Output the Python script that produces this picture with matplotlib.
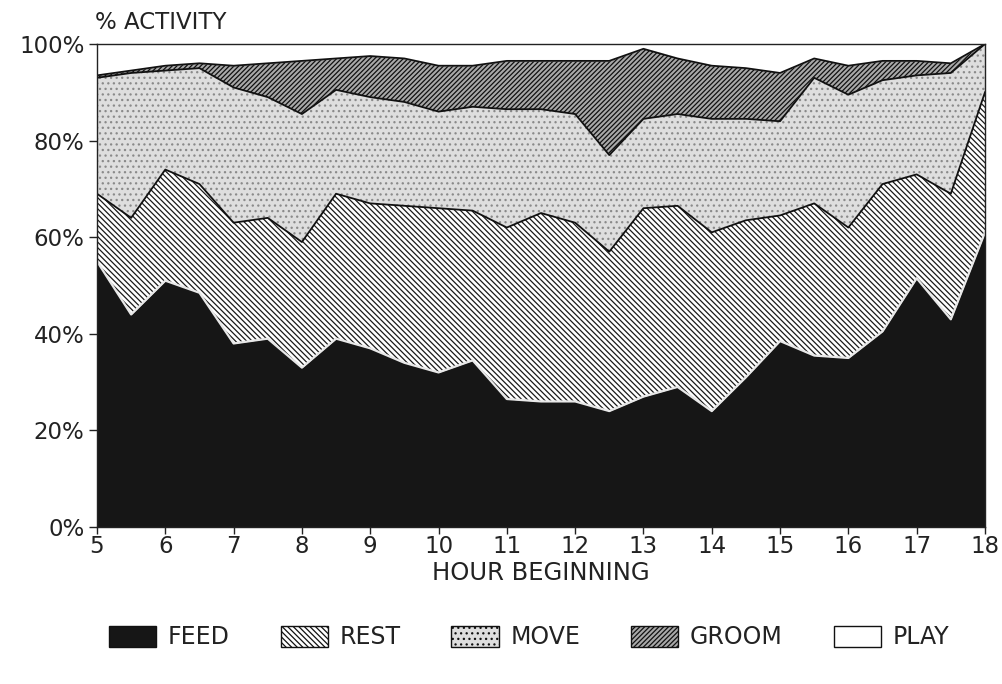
import numpy as np
import matplotlib
matplotlib.use("Agg")
import matplotlib.pyplot as plt
from matplotlib.patches import Patch

# half-hour steps from 5:00 to 18:00
hours = np.arange(5, 18.01, 0.5)

# percent of activity per half hour
feed = [55, 44, 51, 48.5, 38, 39, 33, 39, 37, 34, 32, 34.5, 26.5, 26,
        26, 24, 27, 29, 24, 31, 38.5, 35.5, 35, 40.5, 51.5, 43, 61]
rest = [14, 20, 23, 22.5, 25, 25, 26, 30, 30, 32.5, 34, 31, 35.5, 39,
        37, 33, 39, 37.5, 37, 32.5, 26, 31.5, 27, 30.5, 21.5, 26, 29]
move = [24, 30, 20.5, 24, 28, 25, 26.5, 21.5, 22, 21.5, 20, 21.5, 24.5, 21.5,
        22.5, 20, 18.5, 19, 23.5, 21, 19.5, 26, 27.5, 21.5, 20.5, 25, 10]
groom = [0.5, 0.5, 1, 1, 4.5, 7, 11, 6.5, 8.5, 9, 9.5, 8.5, 10, 10,
         11, 19.5, 14.5, 11.5, 11, 10.5, 10, 4, 6, 4, 3, 2, 0]
play = [6.5, 5.5, 4.5, 4, 4.5, 4, 3.5, 3, 2.5, 3, 4.5, 4.5, 3.5, 3.5,
        3.5, 3.5, 1, 3, 4.5, 5, 6, 3, 4.5, 3.5, 3.5, 4, 0]

labels = ["FEED", "REST", "MOVE", "GROOM", "PLAY"]
xticks = list(range(5, 19))
yticks = [0, 20, 40, 60, 80, 100]

# look of each band: face, hatch, hatch colour
faces = ["#161616", "white", "#dedede", "#a9a9a9", "white"]
hatches = [None, "\\" * 6, "...", "/" * 7, None]
hcolors = ["#161616", "#1a1a1a", "#8a8a8a", "#111111", "white"]

plt.rcParams["hatch.linewidth"] = 0.9
plt.rcParams["font.family"] = ["DejaVu Sans"]
txt = "#222222"

fig = plt.figure(figsize=(10.02, 6.84), dpi=100)
ax = fig.add_axes([0.0968, 0.2295, 0.8862, 0.7062])

series = [feed, rest, move, groom, play]
polys = ax.stackplot(hours, *series)
for p, fc, h, hc in zip(polys, faces, hatches, hcolors):
    p.set_facecolor(fc)
    p.set_edgecolor(hc)
    p.set_linewidth(0)
    if h:
        p.set_hatch(h)

# outlines between the bands (light edge on the black feed band)
tops = np.cumsum(np.array(series), axis=0)
ax.plot(hours, tops[0], color="#e8e8e8", lw=1.6)
for t in tops[1:-1]:
    ax.plot(hours, t, color="#111111", lw=1.3)

ax.set_xlim(5, 18)
ax.set_ylim(0, 100)
ax.set_xticks(xticks)
ax.set_yticks(yticks)
ax.set_yticklabels(["%d%%" % v for v in yticks])
ax.tick_params(labelsize=16.5, length=6, width=1, direction="out", colors=txt)
ax.tick_params(axis="x", length=5, pad=1)
ax.tick_params(axis="y", pad=3)
for s in ax.spines.values():
    s.set_linewidth(1.0)
    s.set_color(txt)

ax.set_xlabel("HOUR BEGINNING", fontsize=17.5, color=txt, labelpad=2)
fig.text(0.095, 0.967, "% ACTIVITY", fontsize=16.5, color=txt, va="center")

handles = [Patch(facecolor=fc, edgecolor="#111111", hatch=h, lw=1)
           for fc, h in zip(faces, hatches)]
leg = fig.legend(handles, labels, loc="center", bbox_to_anchor=(0.528, 0.068),
                 ncol=5, frameon=False, fontsize=17, handlelength=2.0,
                 handleheight=1.0, handletextpad=0.5, columnspacing=2.15)
for t in leg.get_texts():
    t.set_color(txt)

fig.savefig("out.png", dpi=100)
